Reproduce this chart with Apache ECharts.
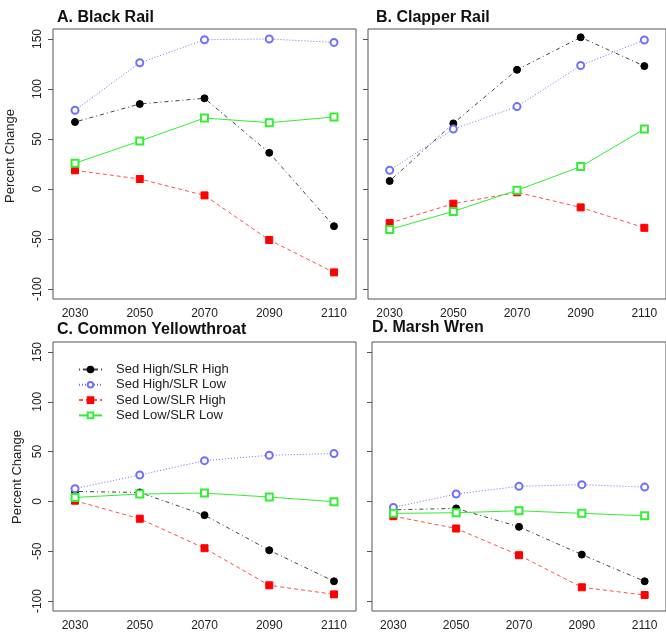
<!DOCTYPE html>
<html><head><meta charset="utf-8">
<script src="https://cdn.jsdelivr.net/npm/echarts@6/dist/echarts.min.js"></script>
<style>html,body{margin:0;padding:0;background:#fff}#c{width:666px;height:632px}</style>
</head><body><div id="c"></div>
<script>
var years = [2030, 2050, 2070, 2090, 2110];
var yTicks = [-100, -50, 0, 50, 100, 150];
var seriesNames = ['Sed High/SLR High', 'Sed High/SLR Low', 'Sed Low/SLR High', 'Sed Low/SLR Low'];
var panelTitles = ['A. Black Rail', 'B. Clapper Rail', 'C. Common Yellowthroat', 'D. Marsh Wren'];

// A. Black Rail
var aHH = [67, 85, 90.7, 36.2, -37.2];
var aHL = [78.7, 126.2, 149.3, 150, 146.6];
var aLH = [18.7, 10, -6.4, -51, -83.4];
var aLL = [25.8, 47.9, 71, 66.3, 72];
// B. Clapper Rail
var bHH = [8, 65.6, 119.2, 151.7, 122.9];
var bHL = [18.7, 59.9, 82.4, 123.5, 149];
var bLH = [-34.1, -14.7, -3.3, -18.4, -38.8];
var bLL = [-40.5, -22.4, -1.3, 22.4, 59.9];
// C. Common Yellowthroat
var cHH = [10, 9, -13.8, -49, -80.2];
var cHL = [12.8, 26.5, 40.9, 46.3, 48];
var cLH = [0.7, -17.4, -47, -84.2, -93.3];
var cLL = [4, 7.4, 8.4, 4.4, -0.3];
// D. Marsh Wren
var dHH = [-8.4, -7, -25.5, -53.4, -80.2];
var dHL = [-6, 7.4, 15.1, 16.8, 14.4];
var dLH = [-14.8, -27.2, -54, -86.2, -94];
var dLL = [-12, -11.4, -9.4, -12, -14.4];

var panels = [[aHH, aHL, aLH, aLL], [bHH, bHL, bLH, bLL], [cHH, cHL, cLH, cLL], [dHH, dHL, dLH, dLL]];

var FONT = 'Liberation Sans, Arial, sans-serif';
var styles = [
  {color: '#000000', line: '#444444', symbol: 'circle', dash: [1, 3, 4, 3]},
  {color: '#7070ff', line: '#7070ff', symbol: 'emptyCircle', dash: [1, 2]},
  {color: '#ff0000', line: '#ff5050', symbol: 'rect', dash: [4, 3]},
  {color: '#33ee33', line: '#33ee33', symbol: 'emptyRect', dash: 'solid'}
];

var grids = [
  {left: 53, top: 29, width: 303, height: 270},
  {left: 368, top: 29, width: 303, height: 270},
  {left: 53, top: 342, width: 303, height: 270},
  {left: 372, top: 342, width: 303, height: 270}
];
var titlePos = [[57, 10], [376, 10], [57, 322], [372, 320]];

function plain(v) { return String(v); }

var xAxes = [], yAxes = [], series = [], titles = [];
grids.forEach(function (g, i) {
  g.show = true; g.borderColor = '#555'; g.borderWidth = 1; g.backgroundColor = 'transparent';
  xAxes.push({
    type: 'value', gridIndex: i, min: 2023.2, max: 2116.8,
    axisLine: {show: false}, splitLine: {show: false},
    axisTick: {show: false},
    axisLabel: {customValues: years, formatter: plain, margin: 9, color: '#222', fontSize: 12, fontFamily: FONT}
  });
  yAxes.push({
    type: 'value', gridIndex: i, min: -110, max: 160,
    axisLine: {show: false}, splitLine: {show: false},
    axisTick: {show: true, customValues: yTicks, length: 5, lineStyle: {color: '#555'}},
    axisLabel: {show: i % 2 === 0, customValues: yTicks, formatter: plain, rotate: 90, margin: 9, color: '#222', fontSize: 12, fontFamily: FONT}
  });
  titles.push({
    text: panelTitles[i], left: titlePos[i][0], top: titlePos[i][1], padding: 0,
    textStyle: {fontSize: 16, fontWeight: 'bold', color: '#111', fontFamily: FONT}
  });
  panels[i].forEach(function (vals, k) {
    var st = styles[k];
    series.push({
      name: seriesNames[k], type: 'line', xAxisIndex: i, yAxisIndex: i,
      data: years.map(function (y, j) { return [y, vals[j]]; }),
      symbol: st.symbol, symbolSize: 7, showAllSymbol: true,
      lineStyle: {color: st.line, width: 1, type: st.dash},
      itemStyle: {color: st.color, borderColor: st.color, borderWidth: 1},
      emphasis: {disabled: true}
    });
  });
});

var chart = echarts.init(document.getElementById('c'), null, {renderer: 'canvas'});
chart.setOption({
  animation: false,
  backgroundColor: '#fff',
  title: titles,
  grid: grids,
  xAxis: xAxes,
  yAxis: yAxes,
  legend: {
    data: seriesNames, orient: 'vertical', left: 78, top: 363,
    itemWidth: 23, itemHeight: 7, itemGap: 2.3, padding: 0,
    textStyle: {fontSize: 13, color: '#222', fontFamily: FONT, padding: [0, 0, 0, 9]}
  },
  graphic: [
    {type: 'text', x: 10, y: 156, rotation: Math.PI / 2,
     style: {text: 'Percent Change', fontSize: 13, fontFamily: FONT, fill: '#222', align: 'center', verticalAlign: 'middle'}},
    {type: 'text', x: 17, y: 477, rotation: Math.PI / 2,
     style: {text: 'Percent Change', fontSize: 13, fontFamily: FONT, fill: '#222', align: 'center', verticalAlign: 'middle'}}
  ],
  series: series
});
</script>
</body></html>
